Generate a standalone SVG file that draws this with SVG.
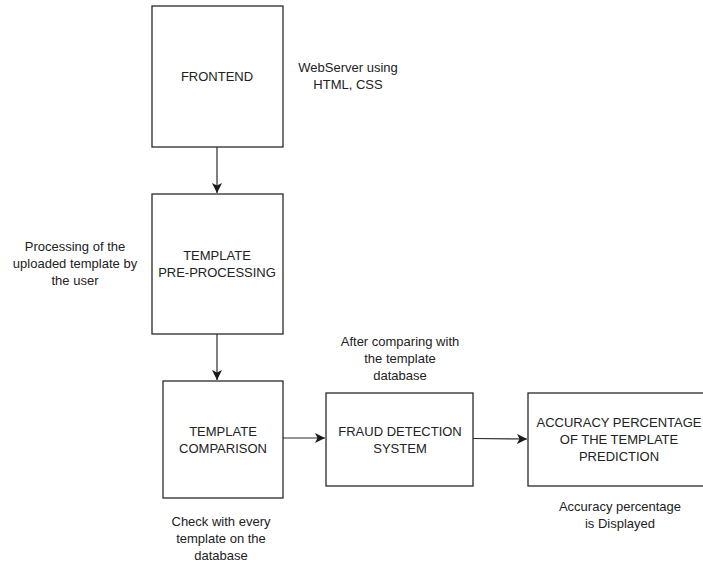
<svg xmlns="http://www.w3.org/2000/svg" width="703" height="562" viewBox="0 0 703 562">
<defs>
<marker id="arr" viewBox="0 0 10 10" refX="10" refY="5" markerWidth="10" markerHeight="10" markerUnits="userSpaceOnUse" orient="auto">
<path d="M0,0 L10,5 L0,10 L2.5,5 Z" fill="#1a1a1a"/>
</marker>
</defs>
<style>
.box{fill:#fff;stroke:#2a2a2a;stroke-width:1.3}
.t{font-family:"Liberation Sans",Arial,sans-serif;font-size:13px;fill:#222;text-anchor:middle}
.c{fill:none;stroke:#2a2a2a;stroke-width:1.2;marker-end:url(#arr)}
</style>
<rect width="703" height="562" fill="#fff"/>
<g id="connectors">
<line class="c" x1="217" y1="147" x2="217" y2="193"/>
<line class="c" x1="217" y1="334" x2="217" y2="380"/>
<line class="c" x1="283" y1="438" x2="325" y2="438"/>
<line class="c" x1="473" y1="438.5" x2="527" y2="439"/>
</g>
<g id="frontend">
<rect class="box" x="152" y="6" width="131" height="141"/>
<text class="t" x="217" y="81">FRONTEND</text>
</g>
<g id="preprocessing">
<rect class="box" x="152" y="194" width="131" height="140"/>
<text class="t" x="217" y="260">TEMPLATE</text>
<text class="t" x="217" y="277">PRE-PROCESSING</text>
</g>
<g id="comparison">
<rect class="box" x="163" y="381" width="120" height="117"/>
<text class="t" x="223" y="436">TEMPLATE</text>
<text class="t" x="223" y="453">COMPARISON</text>
</g>
<g id="fraud">
<rect class="box" x="326" y="393" width="147" height="93"/>
<text class="t" x="400" y="436">FRAUD DETECTION</text>
<text class="t" x="400" y="453">SYSTEM</text>
</g>
<g id="accuracy">
<rect class="box" x="528" y="393" width="185" height="93"/>
<text class="t" x="619" y="427">ACCURACY PERCENTAGE</text>
<text class="t" x="619" y="444">OF THE TEMPLATE</text>
<text class="t" x="619" y="461">PREDICTION</text>
</g>
<g id="labels">
<text class="t" x="348" y="72">WebServer using</text>
<text class="t" x="348" y="89">HTML, CSS</text>
<text class="t" x="75" y="251">Processing of the</text>
<text class="t" x="75" y="268">uploaded template by</text>
<text class="t" x="75" y="285">the user</text>
<text class="t" x="400" y="346">After comparing with</text>
<text class="t" x="400" y="363">the template</text>
<text class="t" x="400" y="380">database</text>
<text class="t" x="221" y="526">Check with every</text>
<text class="t" x="221" y="543">template on the</text>
<text class="t" x="221" y="560">database</text>
<text class="t" x="620" y="511">Accuracy percentage</text>
<text class="t" x="620" y="528">is Displayed</text>
</g>
</svg>
